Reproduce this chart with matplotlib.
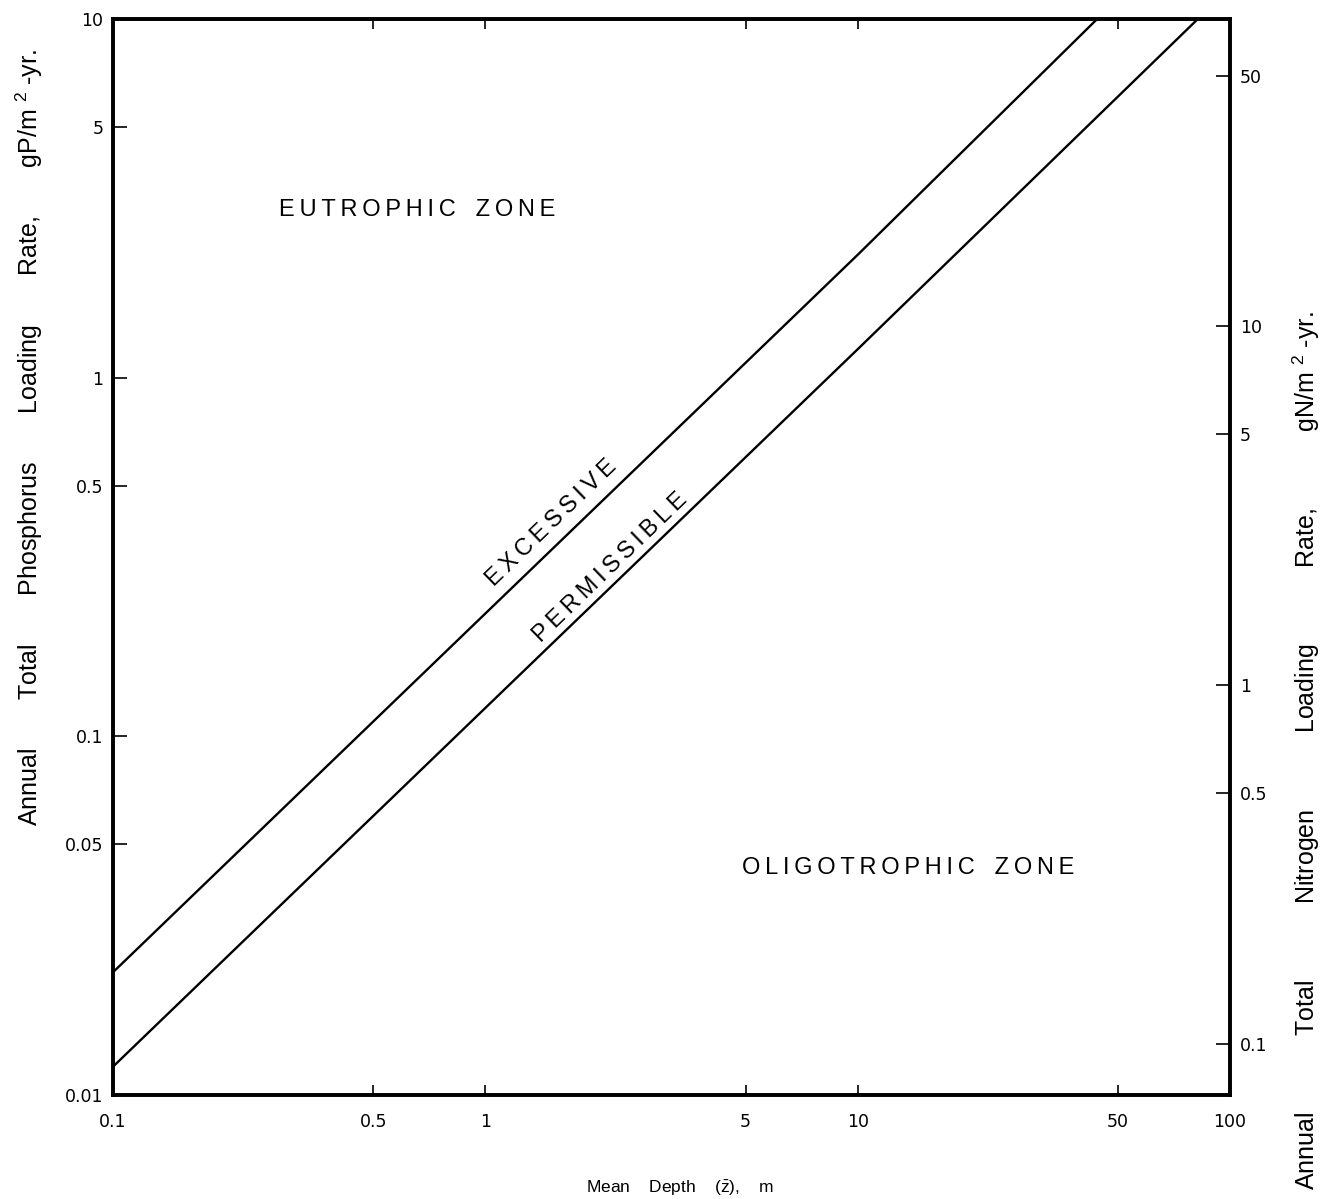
import matplotlib
matplotlib.use("Agg")
import matplotlib.pyplot as plt
from matplotlib.ticker import FixedLocator, FixedFormatter, NullLocator

plt.rcParams['font.family'] = ['Liberation Sans', 'DejaVu Sans']
plt.rcParams['mathtext.fontset'] = 'custom'
plt.rcParams['mathtext.rm'] = 'Liberation Sans'
plt.rcParams['mathtext.it'] = 'Liberation Sans'

# mean depth (m) vs. annual phosphorus loading (g P / m2 / yr)
depth_excessive = [0.1, 1.0, 10.0, 44.0]
load_excessive = [0.022, 0.22, 2.2, 10.0]
depth_permissible = [0.1, 1.0, 10.0, 82.0]
load_permissible = [0.012, 0.12, 1.2, 10.0]

# nitrogen scale = phosphorus scale times N:P weight ratio
np_ratio = 7.2

x_ticks = [0.1, 0.5, 1, 5, 10, 50, 100]
x_labels = ["0.1", "0.5", "1", "5", "10", "50", "100"]
p_ticks = [0.01, 0.05, 0.1, 0.5, 1, 5, 10]
p_labels = ["0.01", "0.05", "0.1", "0.5", "1", "5", "10"]
n_ticks = [0.1, 0.5, 1, 5, 10, 50]
n_labels = ["0.1", "0.5", "1", "5", "10", "50"]


def spaced(s):
    # letter-spaced caps like the lettering-guide text
    return "\u2009".join(s)


fig = plt.figure(figsize=(13.22, 11.99), dpi=100)
ax = fig.add_axes([0.0855, 0.0867, 0.8449, 0.8975])

ax.plot(depth_excessive, load_excessive, color="black", lw=1.7)
ax.plot(depth_permissible, load_permissible, color="black", lw=1.7)

ax.set_xscale("log")
ax.set_yscale("log")
ax.set_xlim(0.1, 100)
ax.set_ylim(0.01, 10)

ax.xaxis.set_major_locator(FixedLocator(x_ticks))
ax.xaxis.set_major_formatter(FixedFormatter(x_labels))
ax.xaxis.set_minor_locator(NullLocator())
ax.yaxis.set_major_locator(FixedLocator(p_ticks))
ax.yaxis.set_major_formatter(FixedFormatter(p_labels))
ax.yaxis.set_minor_locator(NullLocator())
ax.tick_params(axis="both", which="major", direction="in", width=1.2,
               labelsize=12.5, labelfontfamily="DejaVu Sans", top=True, right=False)
ax.tick_params(axis="x", length=7, pad=13)
ax.tick_params(axis="y", length=10, pad=7)

for s in ax.spines.values():
    s.set_linewidth(2.6)

ax2 = ax.twinx()
ax2.set_yscale("log")
ax2.set_ylim(0.01 * np_ratio, 10 * np_ratio)
ax2.yaxis.set_major_locator(FixedLocator(n_ticks))
ax2.yaxis.set_major_formatter(FixedFormatter(n_labels))
ax2.yaxis.set_minor_locator(NullLocator())
ax2.tick_params(axis="y", direction="in", length=10, width=1.2, labelsize=12.5,
                labelfontfamily="DejaVu Sans", pad=7)
for s in ax2.spines.values():
    s.set_linewidth(2.6)

ax.set_xlabel(r"Mean    Depth    ($\bar{\mathrm{z}}$),    m", fontsize=12.5)
ax.xaxis.set_label_coords(0.508, -0.078)

gap = " " * 7
ax.set_ylabel(gap.join(["Annual", "Total", "Phosphorus", "Loading", "Rate,",
                        r"gP/m $^{2}$ -yr."]), fontsize=18)
ax.yaxis.set_label_coords(-0.061, 0.611)

gap = " " * 11
ax2.set_ylabel(gap.join(["Annual", "Total", "Nitrogen", "Loading", "Rate,",
                         r"gN/m $^{2}$ -yr."]), fontsize=18, rotation=90)
ax2.yaxis.set_label_coords(1.054, 0.32)

ax.text(0.272, 0.822, spaced("EUTROPHIC") + "   " + spaced("ZONE"),
        transform=ax.transAxes, fontsize=17, ha="center", va="center")
ax.text(0.712, 0.211, spaced("OLIGOTROPHIC") + "   " + spaced("ZONE"),
        transform=ax.transAxes, fontsize=17, ha="center", va="center")
ax.text(1.51, 0.394, spaced("EXCESSIVE"), fontsize=17, rotation=44, ha="center",
        va="center", rotation_mode="anchor")
ax.text(2.17, 0.296, spaced("PERMISSIBLE"), fontsize=17, rotation=44, ha="center",
        va="center", rotation_mode="anchor")

fig.savefig("out.png", dpi=100, facecolor="white")
